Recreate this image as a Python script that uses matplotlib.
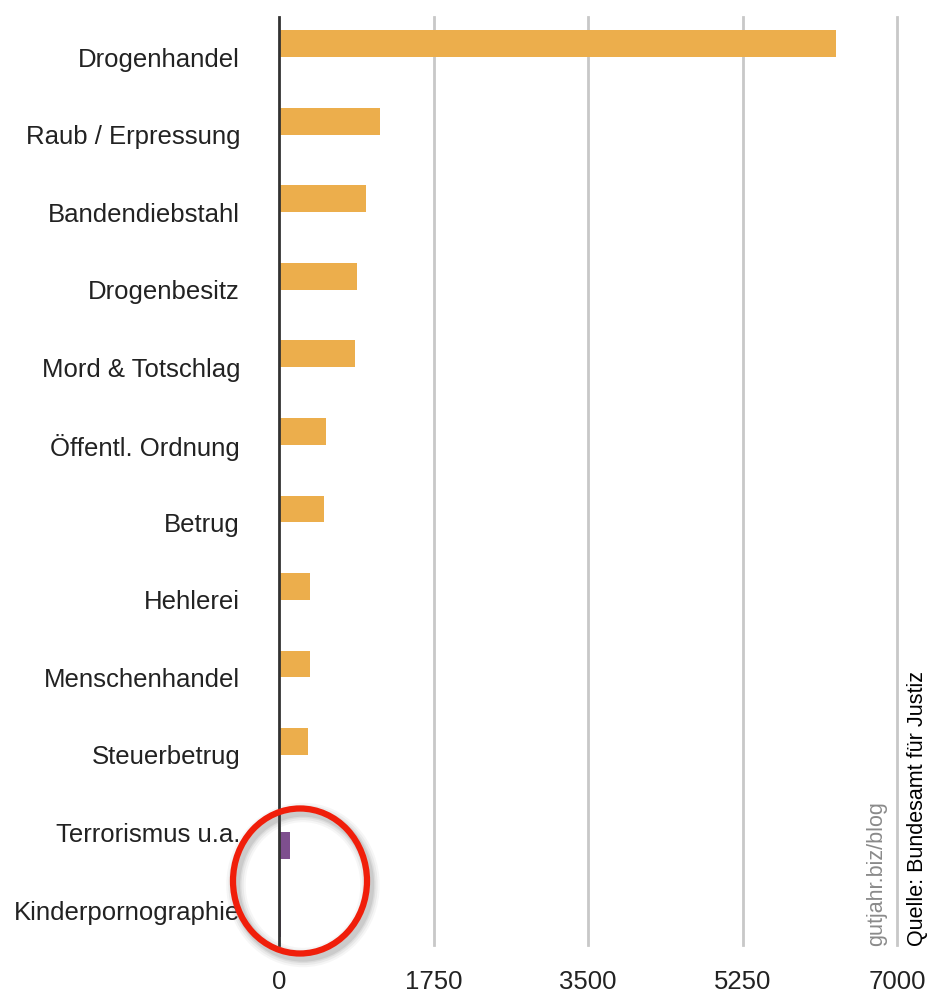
import matplotlib
matplotlib.use("Agg")
import matplotlib.pyplot as plt
from matplotlib.patches import Ellipse
import numpy as np

plt.rcParams['font.family'] = ['Liberation Sans', 'DejaVu Sans']

categories = ["Drogenhandel", "Raub / Erpressung", "Bandendiebstahl", "Drogenbesitz",
              "Mord & Totschlag", "Öffentl. Ordnung", "Betrug", "Hehlerei",
              "Menschenhandel", "Steuerbetrug", "Terrorismus u.a.", "Kinderpornographie"]
# series 1 (orange) and series 2 (purple, highlighted)
values_main = [6310, 1146, 987, 885, 863, 533, 511, 352, 352, 329, 0, 0]
values_highlight = [0, 0, 0, 0, 0, 0, 0, 0, 0, 0, 120, 20]
xticks = [0, 1750, 3500, 5250, 7000]

orange = "#ECAE4C"
purple = "#7E4F8E"
textc = "#222222"

fig = plt.figure(figsize=(9.28, 9.94), dpi=100)
W, H = 928, 994
left, right, top, bottom = 279, 897, 17, 945
ax = fig.add_axes([left / W, 1 - bottom / H, (right - left) / W, (bottom - top) / H])

ypos = np.arange(len(categories))
bh = 0.345
ax.barh(ypos - bh / 2, values_main, height=bh, color=orange, zorder=3)
ax.barh(ypos + bh / 2, values_highlight, height=bh, color=purple, zorder=3)

ax.set_xlim(0, 7000)
ax.set_ylim(11.451, -0.516)
ax.set_xticks(xticks)
ax.set_xticklabels([str(t) for t in xticks], fontsize=18.5, color=textc)
ax.set_yticks(ypos)
ax.set_yticklabels(categories, fontsize=18.5, color=textc)
ax.tick_params(axis='both', length=0)
ax.tick_params(axis='y', pad=28)
ax.tick_params(axis='x', pad=18)

for s in ['top', 'right', 'bottom']:
    ax.spines[s].set_visible(False)
ax.spines['left'].set_color('#333333')
ax.spines['left'].set_linewidth(2)
ax.spines['left'].set_zorder(4)

for t in xticks[1:]:
    ax.axvline(t, color='#c8c8c8', linewidth=2, zorder=1, clip_on=False)

# annotation texts
fig.text(877 / W, 1 - 946 / H, "gutjahr.biz/blog", rotation=90, color='#8a8a8a',
         fontsize=15.5, ha='center', va='bottom')
fig.text(918 / W, 1 - 946 / H, "Quelle: Bundesamt für Justiz", rotation=90, color='black',
         fontsize=15.5, ha='center', va='bottom')

# red highlight circle with soft shadow
cx, cy, ew, eh = 300, 881, 134, 145
for lw, a in [(14, 0.05), (11, 0.07), (8, 0.09), (6, 0.12)]:
    sh = Ellipse(((cx + 3) / W, 1 - (cy + 4) / H), ew / W, eh / H, transform=fig.transFigure,
                 fill=False, edgecolor='#555555', linewidth=lw, alpha=a, zorder=9)
    fig.add_artist(sh)
ell = Ellipse((cx / W, 1 - cy / H), ew / W, eh / H, transform=fig.transFigure,
              fill=False, edgecolor='#F01E0A', linewidth=4.5, zorder=10)
fig.add_artist(ell)

fig.savefig("out.png", dpi=100)
